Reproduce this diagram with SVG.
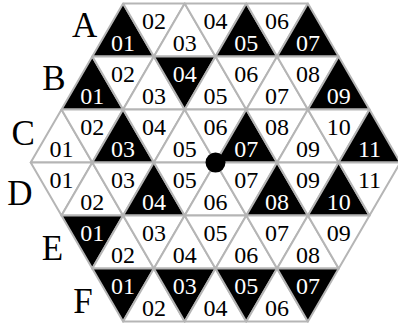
<svg xmlns="http://www.w3.org/2000/svg" width="398" height="324" viewBox="0 0 398 324">
<style>
.t polygon{fill:#fff;stroke:#b5b5b5;stroke-width:2;stroke-linejoin:round}
.t.k polygon{fill:#000}
.t text{font-family:"Liberation Serif","Times New Roman",serif;font-size:24px;text-anchor:middle;fill:#000}
.t.k text{fill:#fff}
.lbl{font-family:"Liberation Serif","Times New Roman",serif;font-size:35px;text-anchor:middle;fill:#000}
</style>
<rect width="398" height="324" fill="#fff"/>
<g id="rowA">
<g id="A01" class="t k"><polygon points="92.3,56.6 153.9,56.6 123.1,3.6"/><text x="123.1" y="51">01</text></g>
<g id="A02" class="t"><polygon points="123.1,3.6 184.7,3.6 153.9,56.6"/><text x="153.9" y="28.9">02</text></g>
<g id="A03" class="t"><polygon points="153.9,56.6 215.5,56.6 184.7,3.6"/><text x="184.7" y="51">03</text></g>
<g id="A04" class="t"><polygon points="184.7,3.6 246.3,3.6 215.5,56.6"/><text x="215.5" y="28.9">04</text></g>
<g id="A05" class="t k"><polygon points="215.5,56.6 277.1,56.6 246.3,3.6"/><text x="246.3" y="51">05</text></g>
<g id="A06" class="t"><polygon points="246.3,3.6 307.9,3.6 277.1,56.6"/><text x="277.1" y="28.9">06</text></g>
<g id="A07" class="t k"><polygon points="277.1,56.6 338.7,56.6 307.9,3.6"/><text x="307.9" y="51">07</text></g>
</g>
<g id="rowB">
<g id="B01" class="t k"><polygon points="61.5,109.6 123.1,109.6 92.3,56.6"/><text x="92.3" y="104">01</text></g>
<g id="B02" class="t"><polygon points="92.3,56.6 153.9,56.6 123.1,109.6"/><text x="123.1" y="81.9">02</text></g>
<g id="B03" class="t"><polygon points="123.1,109.6 184.7,109.6 153.9,56.6"/><text x="153.9" y="104">03</text></g>
<g id="B04" class="t k"><polygon points="153.9,56.6 215.5,56.6 184.7,109.6"/><text x="184.7" y="81.9">04</text></g>
<g id="B05" class="t"><polygon points="184.7,109.6 246.3,109.6 215.5,56.6"/><text x="215.5" y="104">05</text></g>
<g id="B06" class="t"><polygon points="215.5,56.6 277.1,56.6 246.3,109.6"/><text x="246.3" y="81.9">06</text></g>
<g id="B07" class="t"><polygon points="246.3,109.6 307.9,109.6 277.1,56.6"/><text x="277.1" y="104">07</text></g>
<g id="B08" class="t"><polygon points="277.1,56.6 338.7,56.6 307.9,109.6"/><text x="307.9" y="81.9">08</text></g>
<g id="B09" class="t k"><polygon points="307.9,109.6 369.5,109.6 338.7,56.6"/><text x="338.7" y="104">09</text></g>
</g>
<g id="rowC">
<g id="C01" class="t"><polygon points="30.7,162.6 92.3,162.6 61.5,109.6"/><text x="61.5" y="157">01</text></g>
<g id="C02" class="t"><polygon points="61.5,109.6 123.1,109.6 92.3,162.6"/><text x="92.3" y="134.9">02</text></g>
<g id="C03" class="t k"><polygon points="92.3,162.6 153.9,162.6 123.1,109.6"/><text x="123.1" y="157">03</text></g>
<g id="C04" class="t"><polygon points="123.1,109.6 184.7,109.6 153.9,162.6"/><text x="153.9" y="134.9">04</text></g>
<g id="C05" class="t"><polygon points="153.9,162.6 215.5,162.6 184.7,109.6"/><text x="184.7" y="157">05</text></g>
<g id="C06" class="t"><polygon points="184.7,109.6 246.3,109.6 215.5,162.6"/><text x="215.5" y="134.9">06</text></g>
<g id="C07" class="t k"><polygon points="215.5,162.6 277.1,162.6 246.3,109.6"/><text x="246.3" y="157">07</text></g>
<g id="C08" class="t"><polygon points="246.3,109.6 307.9,109.6 277.1,162.6"/><text x="277.1" y="134.9">08</text></g>
<g id="C09" class="t"><polygon points="277.1,162.6 338.7,162.6 307.9,109.6"/><text x="307.9" y="157">09</text></g>
<g id="C10" class="t"><polygon points="307.9,109.6 369.5,109.6 338.7,162.6"/><text x="338.7" y="134.9">10</text></g>
<g id="C11" class="t k"><polygon points="338.7,162.6 400.3,162.6 369.5,109.6"/><text x="369.5" y="157">11</text></g>
</g>
<g id="rowD">
<g id="D01" class="t"><polygon points="30.7,162.6 92.3,162.6 61.5,215.6"/><text x="61.5" y="187.9">01</text></g>
<g id="D02" class="t"><polygon points="61.5,215.6 123.1,215.6 92.3,162.6"/><text x="92.3" y="210">02</text></g>
<g id="D03" class="t"><polygon points="92.3,162.6 153.9,162.6 123.1,215.6"/><text x="123.1" y="187.9">03</text></g>
<g id="D04" class="t k"><polygon points="123.1,215.6 184.7,215.6 153.9,162.6"/><text x="153.9" y="210">04</text></g>
<g id="D05" class="t"><polygon points="153.9,162.6 215.5,162.6 184.7,215.6"/><text x="184.7" y="187.9">05</text></g>
<g id="D06" class="t"><polygon points="184.7,215.6 246.3,215.6 215.5,162.6"/><text x="215.5" y="210">06</text></g>
<g id="D07" class="t"><polygon points="215.5,162.6 277.1,162.6 246.3,215.6"/><text x="246.3" y="187.9">07</text></g>
<g id="D08" class="t k"><polygon points="246.3,215.6 307.9,215.6 277.1,162.6"/><text x="277.1" y="210">08</text></g>
<g id="D09" class="t"><polygon points="277.1,162.6 338.7,162.6 307.9,215.6"/><text x="307.9" y="187.9">09</text></g>
<g id="D10" class="t k"><polygon points="307.9,215.6 369.5,215.6 338.7,162.6"/><text x="338.7" y="210">10</text></g>
<g id="D11" class="t"><polygon points="338.7,162.6 400.3,162.6 369.5,215.6"/><text x="369.5" y="187.9">11</text></g>
</g>
<g id="rowE">
<g id="E01" class="t k"><polygon points="61.5,215.6 123.1,215.6 92.3,268.6"/><text x="92.3" y="240.9">01</text></g>
<g id="E02" class="t"><polygon points="92.3,268.6 153.9,268.6 123.1,215.6"/><text x="123.1" y="263">02</text></g>
<g id="E03" class="t"><polygon points="123.1,215.6 184.7,215.6 153.9,268.6"/><text x="153.9" y="240.9">03</text></g>
<g id="E04" class="t"><polygon points="153.9,268.6 215.5,268.6 184.7,215.6"/><text x="184.7" y="263">04</text></g>
<g id="E05" class="t"><polygon points="184.7,215.6 246.3,215.6 215.5,268.6"/><text x="215.5" y="240.9">05</text></g>
<g id="E06" class="t"><polygon points="215.5,268.6 277.1,268.6 246.3,215.6"/><text x="246.3" y="263">06</text></g>
<g id="E07" class="t"><polygon points="246.3,215.6 307.9,215.6 277.1,268.6"/><text x="277.1" y="240.9">07</text></g>
<g id="E08" class="t"><polygon points="277.1,268.6 338.7,268.6 307.9,215.6"/><text x="307.9" y="263">08</text></g>
<g id="E09" class="t"><polygon points="307.9,215.6 369.5,215.6 338.7,268.6"/><text x="338.7" y="240.9">09</text></g>
</g>
<g id="rowF">
<g id="F01" class="t k"><polygon points="92.3,268.6 153.9,268.6 123.1,321.6"/><text x="123.1" y="293.9">01</text></g>
<g id="F02" class="t"><polygon points="123.1,321.6 184.7,321.6 153.9,268.6"/><text x="153.9" y="316">02</text></g>
<g id="F03" class="t k"><polygon points="153.9,268.6 215.5,268.6 184.7,321.6"/><text x="184.7" y="293.9">03</text></g>
<g id="F04" class="t"><polygon points="184.7,321.6 246.3,321.6 215.5,268.6"/><text x="215.5" y="316">04</text></g>
<g id="F05" class="t k"><polygon points="215.5,268.6 277.1,268.6 246.3,321.6"/><text x="246.3" y="293.9">05</text></g>
<g id="F06" class="t"><polygon points="246.3,321.6 307.9,321.6 277.1,268.6"/><text x="277.1" y="316">06</text></g>
<g id="F07" class="t k"><polygon points="277.1,268.6 338.7,268.6 307.9,321.6"/><text x="307.9" y="293.9">07</text></g>
</g>
<g id="labels">
<text class="lbl" x="84.7" y="36.7">A</text>
<text class="lbl" x="54" y="90">B</text>
<text class="lbl" x="23.3" y="145">C</text>
<text class="lbl" x="20" y="205">D</text>
<text class="lbl" x="52.5" y="260">E</text>
<text class="lbl" x="83" y="313">F</text>
</g>
<g id="center"><circle cx="215.5" cy="162.6" r="10" fill="#000"/></g>
</svg>
